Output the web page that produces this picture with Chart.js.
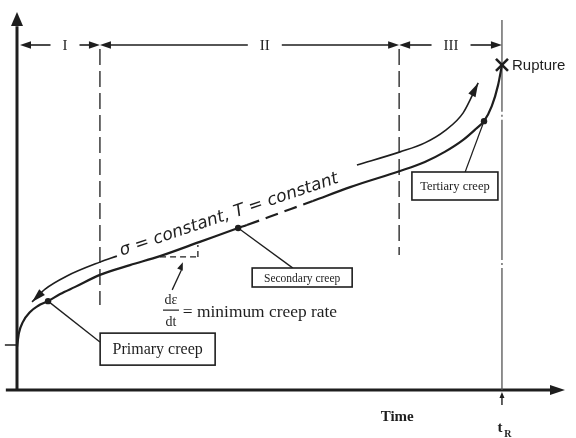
<!DOCTYPE html>
<html>
<head>
<meta charset="utf-8">
<script src="https://cdn.jsdelivr.net/npm/chart.js@4.4.0/dist/chart.umd.min.js"></script>
<style>
  html, body { margin: 0; padding: 0; background: #fff; }
  #wrap { width: 576px; height: 438px; }
</style>
</head>
<body>
<div id="wrap"><canvas id="creepChart" width="576" height="438"></canvas></div>
<script>
// creep curve: strain vs time, arbitrary units, rupture time tR = 100
const creepTime   = [0, 0.4, 1.2, 2.7, 4.3, 6.4, 8.9, 12.0, 17.1, 23.3, 29.5, 37.7, 45.6, 47.4, 54.2, 61.0, 68.7, 79.0, 84.1, 88.2, 92.0, 94.6, 96.3, 97.9, 99.2, 100];
const creepStrain = [11.5, 15.2, 18.1, 20.8, 22.4, 23.7, 25.6, 27.5, 30.7, 33.3, 35.7, 39.5, 43.2, 44.0, 47.2, 50.4, 54.1, 58.4, 60.8, 63.5, 66.7, 69.6, 71.7, 75.7, 81.3, 86.7];
const dashedFrom = 13, dashedTo = 15;   // dashed part of the secondary stage

// arrowed guide curve "sigma = constant, T = constant"
const guideTimeA   = [3.1, 5.8, 10.3, 17.1, 20.6];
const guideStrainA = [23.5, 26.9, 30.4, 34.1, 35.7];
const guideTimeB   = [70.1, 79.0, 84.1, 88.2, 92.0, 95.1];
const guideStrainB = [60.0, 63.5, 65.9, 69.1, 73.9, 81.9];

// stages
const stageNames   = ['I', 'II', 'III'];
const stageBounds  = [0, 17.1, 78.8, 100];
const stageLabelAt = [9.9, 51.1, 89.5];
const stageLabels  = ['Primary creep', 'Secondary creep', 'Tertiary creep'];
const stageDotTime   = [6.4, 45.6, 96.3];
const stageDotStrain = [23.7, 43.2, 71.7];
const initialStrain = 12.0;

const pts = (xs, ys) => xs.map((x, i) => ({ x: x, y: ys[i] }));

// annotation placement (data units), sizes in px
const boxes = [
    { t: 29.0, e: 10.9, w: 115, h: 32, size: 16, lead: [17.1, 12.8] },
    { t: 58.8, e: 30.0, w: 100, h: 19, size: 11.5, lead: [56.9, 32.5] },
    { t: 90.3, e: 54.4, w: 86, h: 28, size: 12.5, lead: [92.4, 58.1] }
];
const stageLineBottom = [22.7, 36.0];
const topLineE = 92;

const INK = '#1e1e1e';
const SERIF = '"Liberation Serif", "DejaVu Serif", serif';

function arrowHead(ctx, x, y, ang, len, half) {
    ctx.save();
    ctx.translate(x, y);
    ctx.rotate(ang);
    ctx.beginPath();
    ctx.moveTo(0, 0);
    ctx.lineTo(-len, -half);
    ctx.lineTo(-len, half);
    ctx.closePath();
    ctx.fill();
    ctx.restore();
}

function line(ctx, x1, y1, x2, y2) {
    ctx.beginPath();
    ctx.moveTo(x1, y1);
    ctx.lineTo(x2, y2);
    ctx.stroke();
}

function fitFont(ctx, text, style, family, width) {
    ctx.font = style + ' 20px ' + family;
    const s = 20 * width / ctx.measureText(text).width;
    return style + ' ' + s.toFixed(1) + 'px ' + family;
}

const creepDecor = {
    id: 'creepDecor',
    beforeDatasetsDraw(chart) {
        const ctx = chart.ctx;
        const X = v => chart.scales.x.getPixelForValue(v);
        const Y = v => chart.scales.y.getPixelForValue(v);
        ctx.save();
        ctx.strokeStyle = INK;
        ctx.fillStyle = INK;

        // axes
        ctx.lineWidth = 3;
        line(ctx, X(0), Y(0), X(0), Y(97));
        arrowHead(ctx, X(0), Y(100.8), -Math.PI / 2, 14, 6);
        line(ctx, X(-2.3), Y(0), X(111), Y(0));
        arrowHead(ctx, X(113), Y(0), 0, 15, 5);
        ctx.lineWidth = 1.5;
        line(ctx, X(-2.5), Y(initialStrain), X(0), Y(initialStrain));

        // stage boundaries
        ctx.strokeStyle = '#3a3a3a';
        ctx.lineWidth = 1.5;
        ctx.setLineDash([16, 6]);
        for (let i = 0; i < 2; i++) {
            const x = X(stageBounds[i + 1]);
            line(ctx, x, Y(topLineE) + 4, x, Y(stageLineBottom[i]));
        }
        // rupture time chain line
        ctx.strokeStyle = '#555';
        ctx.lineWidth = 1.3;
        ctx.setLineDash([140, 3, 2, 3]);
        ctx.lineDashOffset = 48;
        line(ctx, X(100), Y(98.7), X(100), Y(0));
        ctx.setLineDash([]);
        ctx.lineDashOffset = 0;

        // top stage arrows
        ctx.strokeStyle = INK;
        ctx.lineWidth = 1.6;
        ctx.font = '15px ' + SERIF;
        ctx.textAlign = 'center';
        ctx.textBaseline = 'middle';
        const yTop = Y(topLineE);
        for (let i = 0; i < 3; i++) {
            const a = X(stageBounds[i]) + (i === 0 ? 3 : 0);
            const b = X(stageBounds[i + 1]);
            const m = X(stageLabelAt[i]);
            const g = ctx.measureText(stageNames[i]).width / 2 + 12;
            line(ctx, a + 6, yTop, m - g, yTop);
            line(ctx, m + g, yTop, b - 6, yTop);
            arrowHead(ctx, a, yTop, Math.PI, 11, 3.8);
            arrowHead(ctx, b, yTop, 0, 11, 3.8);
            ctx.fillText(stageNames[i], m, yTop + 1);
        }
        ctx.restore();
    },
    afterDatasetsDraw(chart) {
        const ctx = chart.ctx;
        const X = v => chart.scales.x.getPixelForValue(v);
        const Y = v => chart.scales.y.getPixelForValue(v);
        ctx.save();
        ctx.strokeStyle = INK;
        ctx.fillStyle = INK;

        // arrowheads on guide curve
        const ga = chart.getDatasetMeta(1).data, gb = chart.getDatasetMeta(2).data;
        arrowHead(ctx, ga[0].x, ga[0].y, Math.atan2(ga[0].y - ga[1].y, ga[0].x - ga[1].x), 14, 4);
        const n = gb.length - 1;
        arrowHead(ctx, gb[n].x, gb[n].y, Math.atan2(gb[n].y - gb[n - 1].y, gb[n].x - gb[n - 1].x), 14, 4);

        // guide text
        ctx.save();
        ctx.translate(X(43.7), Y(46.7));
        ctx.rotate(-0.325);
        const gtxt = '\u03C3 = constant, T = constant';
        ctx.font = fitFont(ctx, gtxt, 'italic', '"DejaVu Sans", sans-serif', 230);
        ctx.textAlign = 'center';
        ctx.textBaseline = 'middle';
        ctx.fillText(gtxt, 0, 0);
        ctx.restore();

        // rupture mark
        const rx = X(creepTime[creepTime.length - 1]), ry = Y(creepStrain[creepStrain.length - 1]);
        ctx.lineWidth = 2.6;
        line(ctx, rx - 6, ry - 6, rx + 6, ry + 6);
        line(ctx, rx - 6, ry + 6, rx + 6, ry - 6);
        ctx.font = '15px "Liberation Sans", Arial, sans-serif';
        ctx.textAlign = 'left';
        ctx.textBaseline = 'middle';
        ctx.fillText('Rupture', rx + 10, ry + 1);

        // leaders and boxed labels
        for (let i = 0; i < 3; i++) {
            const bx = boxes[i];
            ctx.lineWidth = 1.3;
            line(ctx, X(stageDotTime[i]), Y(stageDotStrain[i]), X(bx.lead[0]), Y(bx.lead[1]));
            const cx = X(bx.t), cy = Y(bx.e);
            ctx.fillStyle = '#fff';
            ctx.fillRect(cx - bx.w / 2, cy - bx.h / 2, bx.w, bx.h);
            ctx.lineWidth = 1.6;
            ctx.strokeRect(cx - bx.w / 2, cy - bx.h / 2, bx.w, bx.h);
            ctx.fillStyle = INK;
            ctx.font = bx.size + 'px ' + SERIF;
            ctx.textAlign = 'center';
            ctx.textBaseline = 'middle';
            ctx.fillText(stageLabels[i], cx, cy + 1);
        }

        // minimum creep rate triangle + note
        ctx.lineWidth = 1.3;
        ctx.setLineDash([6, 4]);
        line(ctx, X(29.5), Y(35.5), X(37.3), Y(35.5));
        line(ctx, X(37.3), Y(35.5), X(37.3), Y(38.7));
        ctx.setLineDash([]);
        line(ctx, X(32.0), Y(26.7), X(33.9), Y(32.0));
        arrowHead(ctx, X(34.2), Y(34.1), Math.atan2(Y(34.1) - Y(26.7), X(34.2) - X(32.0)), 8, 3);

        const fx = X(31.75), fy = Y(21.3);
        ctx.font = '14px ' + SERIF;
        ctx.textAlign = 'center';
        ctx.textBaseline = 'middle';
        ctx.fillText('d\u03B5', fx, fy - 10);
        ctx.fillText('dt', fx, fy + 12);
        ctx.lineWidth = 1.2;
        line(ctx, fx - 8, fy, fx + 8, fy);
        ctx.textAlign = 'left';
        ctx.font = fitFont(ctx, '= minimum creep rate', '', SERIF, 154);
        ctx.fillText('= minimum creep rate', X(34.2), fy + 2);

        // axis labels
        const y0 = Y(0);
        ctx.font = 'bold 15px ' + SERIF;
        ctx.textAlign = 'center';
        ctx.fillText('Time', X(78.4), y0 + 27);
        ctx.fillText('t', X(100) - 2, y0 + 38);
        ctx.font = 'bold 10px ' + SERIF;
        ctx.fillText('R', X(100) + 6, y0 + 44);
        ctx.lineWidth = 1.4;
        line(ctx, X(100), y0 + 15, X(100), y0 + 6);
        arrowHead(ctx, X(100), y0 + 2, -Math.PI / 2, 6, 2.5);
        ctx.restore();
    }
};

new Chart(document.getElementById('creepChart').getContext('2d'), {
    type: 'line',
    data: {
        datasets: [
            {
                label: 'Creep curve',
                data: pts(creepTime, creepStrain),
                borderColor: INK,
                borderWidth: 2.2,
                pointRadius: 0,
                cubicInterpolationMode: 'monotone',
                segment: {
                    borderDash: c => (c.p0DataIndex >= dashedFrom && c.p1DataIndex <= dashedTo) ? [13, 7] : undefined
                }
            },
            {
                label: 'Guide A',
                data: pts(guideTimeA, guideStrainA),
                borderColor: INK,
                borderWidth: 1.6,
                pointRadius: 0,
                cubicInterpolationMode: 'monotone'
            },
            {
                label: 'Guide B',
                data: pts(guideTimeB, guideStrainB),
                borderColor: INK,
                borderWidth: 1.6,
                pointRadius: 0,
                cubicInterpolationMode: 'monotone'
            },
            {
                label: 'Stage points',
                data: pts(stageDotTime, stageDotStrain),
                showLine: false,
                pointRadius: 3.2,
                pointBackgroundColor: INK,
                pointBorderWidth: 0
            }
        ]
    },
    options: {
        responsive: false,
        animation: false,
        layout: { padding: { left: 17, right: 11, top: 15, bottom: 48 } },
        plugins: { legend: { display: false }, tooltip: { enabled: false } },
        scales: {
            x: { type: 'linear', min: 0, max: 113, display: false },
            y: { type: 'linear', min: 0, max: 100, display: false }
        },
        clip: false
    },
    plugins: [creepDecor]
});
</script>
</body>
</html>
